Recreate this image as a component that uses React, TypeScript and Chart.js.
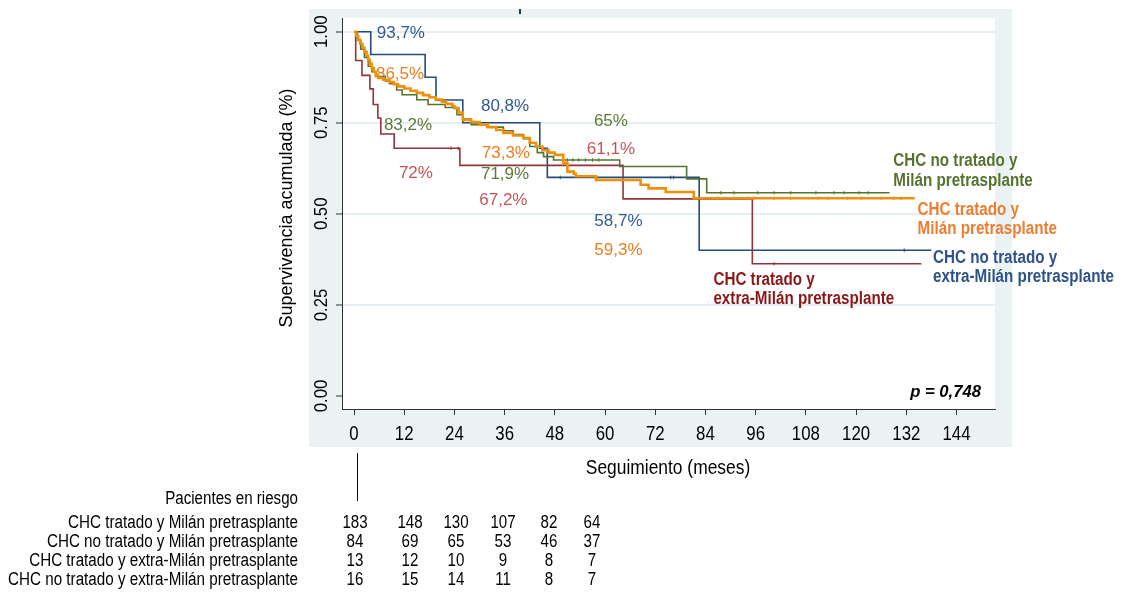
import React, { useEffect, useRef } from 'react';
import { Chart, registerables } from 'chart.js';

Chart.register(...registerables);

// ---------------- DATA ----------------
const xTicks = [0, 12, 24, 36, 48, 60, 72, 84, 96, 108, 120, 132, 144];
const yTicks = [0, 0.25, 0.5, 0.75, 1];
const yTickLabels = ['0.00', '0.25', '0.50', '0.75', '1.00'];

// Kaplan-Meier steps: CHC tratado y Milán pretrasplante (orange)
const tratMilanT = [0, 0.5, 1.0, 1.5, 2.0, 2.5, 3.0, 3.4, 3.8, 4.2, 4.7, 5.2, 5.8, 7, 8.5, 9.5, 10.5, 12, 13.5, 15, 16.5, 18, 19.5, 21, 22, 23.5, 24, 25, 26, 28, 30, 32, 34, 35.7, 38, 40.5, 42, 43.5, 45, 46.5, 48, 50, 51, 52.5, 53, 57.8, 68.5, 70.4, 74.5, 81.2, 134];
const tratMilanS = [1, 0.989, 0.978, 0.967, 0.956, 0.945, 0.934, 0.923, 0.912, 0.901, 0.89, 0.879, 0.873, 0.868, 0.862, 0.856, 0.85, 0.844, 0.838, 0.832, 0.826, 0.82, 0.814, 0.808, 0.802, 0.796, 0.79, 0.778, 0.758, 0.752, 0.745, 0.738, 0.73, 0.722, 0.715, 0.708, 0.695, 0.685, 0.675, 0.668, 0.662, 0.64, 0.616, 0.61, 0.603, 0.593, 0.58, 0.57, 0.56, 0.543, 0.543];

// CHC no tratado y Milán pretrasplante (green)
const noTratMilanT = [0, 0.8, 1.6, 2.5, 3.4, 4.3, 5.2, 7.5, 8.5, 10.2, 11.5, 15, 17.7, 21.8, 24.6, 26, 28, 31.8, 35.7, 38, 40.5, 42, 43.8, 45.3, 47.7, 63.5, 79.5, 84.3, 128];
const noTratMilanS = [1, 0.976, 0.952, 0.929, 0.905, 0.89, 0.877, 0.865, 0.857, 0.84, 0.827, 0.813, 0.8, 0.792, 0.772, 0.76, 0.745, 0.738, 0.728, 0.718, 0.706, 0.685, 0.668, 0.657, 0.648, 0.63, 0.596, 0.558, 0.558];

// CHC tratado y extra-Milán pretrasplante (red)
const tratExtraT = [0, 0.4, 1.9, 3.8, 4.6, 5.7, 6.4, 9.6, 25.3, 64.3, 95.2, 135.6];
const tratExtraS = [1, 0.921, 0.88, 0.843, 0.8, 0.763, 0.719, 0.68, 0.633, 0.541, 0.363, 0.363];

// CHC no tratado y extra-Milán pretrasplante (blue)
const noTratExtraT = [0, 4.0, 17.0, 19.6, 26.0, 44.4, 46.2, 82.5, 138];
const noTratExtraS = [1, 0.9375, 0.875, 0.8125, 0.75, 0.68, 0.6, 0.4, 0.4];

// censored observations (months)
const tratMilanCens = [87, 90.8, 94.1, 95.6, 100.4, 104.4, 110.9, 113.3, 118, 121.2, 126, 129, 130.8];
const noTratMilanCens = [51, 52.3, 53.7, 55.3, 57, 58.5, 87.7, 90.8, 96.5, 100.4, 104.4, 110.4, 114.7, 117.1, 120.7, 122.9];
const tratExtraCens = [23.2, 24.9, 100.4];
const noTratExtraCens = [49.3, 75.7, 76.4, 131.5];

// percentage annotations (series index: 0 orange, 1 green, 2 red, 3 blue)
const pctTexts = ['93,7%', '86,5%', '80,8%', '83,2%', '73,3%', '72%', '71,9%', '67,2%', '65%', '61,1%', '58,7%', '59,3%'];
const pctX = [11.2, 11.0, 36.1, 12.9, 36.3, 14.8, 36.1, 35.7, 61.4, 61.4, 63.2, 63.2];
const pctY = [1.0, 0.886, 0.799, 0.747, 0.671, 0.616, 0.611, 0.54, 0.758, 0.68, 0.483, 0.403];
const pctSeries = [3, 0, 3, 1, 0, 2, 1, 2, 1, 2, 3, 0];

// group labels
const groupLines = [
  ['CHC tratado y', 'Milán pretrasplante'],
  ['CHC no tratado y', 'Milán pretrasplante'],
  ['CHC tratado y', 'extra-Milán pretrasplante'],
  ['CHC no tratado y', 'extra-Milán pretrasplante'],
];
const groupX = [134.7, 128.9, 85.9, 138.4];
const groupY = [0.497, 0.631, 0.305, 0.366];

// risk table
const riskHeader = 'Pacientes en riesgo';
const riskNames = [
  'CHC tratado y Milán pretrasplante',
  'CHC no tratado y Milán pretrasplante',
  'CHC tratado y extra-Milán pretrasplante',
  'CHC no tratado y extra-Milán pretrasplante',
];
const riskTratMilan = [183, 148, 130, 107, 82, 64];
const riskNoTratMilan = [84, 69, 65, 53, 46, 37];
const riskTratExtra = [13, 12, 10, 9, 8, 7];
const riskNoTratExtra = [16, 15, 14, 11, 8, 7];

const xTitle = 'Seguimiento (meses)';
const yTitle = 'Supervivencia acumulada (%)';
const pText = 'p = 0,748';

// ---------------- STYLE ----------------
const lineColors = ['#f0900a', '#55752f', '#90353b', '#1f4e7f'];
const pctColors = ['#ef7d1e', '#5b7a38', '#c65456', '#2f5b8e'];
const groupColors = ['#ed7d31', '#55722f', '#8b1616', '#2e5287'];
const FONT = "'Liberation Sans', Arial, sans-serif";
const riskColX = [355, 410, 456, 503, 549, 592];
const riskBase = [503.5, 527.5, 546.5, 565.5, 584.5];

function steps(T: number[], S: number[]) {
  return T.map((t, i) => ({ x: t, y: S[i] }));
}
function lookup(T: number[], S: number[], t: number) {
  let v = S[0];
  for (let i = 0; i < T.length; i++) if (T[i] <= t) v = S[i];
  return v;
}
function cens(C: number[], T: number[], S: number[]) {
  return C.map((c) => ({ x: c, y: lookup(T, S, c) }));
}

function txt(ctx: CanvasRenderingContext2D, s: string, x: number, y: number, o: any) {
  ctx.save();
  ctx.translate(x, y);
  if (o.rot) ctx.rotate(o.rot);
  ctx.scale(o.sx || 1, 1);
  ctx.font = o.font;
  ctx.fillStyle = o.color || '#000';
  ctx.textAlign = o.align || 'left';
  ctx.textBaseline = 'alphabetic';
  ctx.fillText(s, 0, 0);
  ctx.restore();
}

const decor = {
  id: 'decor',
  beforeDraw(chart: any) {
    const { ctx, chartArea: a } = chart;
    ctx.save();
    ctx.fillStyle = '#ffffff';
    ctx.fillRect(0, 0, chart.width, chart.height);
    ctx.fillStyle = '#eaf2f3';
    ctx.fillRect(309, 9, 1012 - 309, 447 - 9);
    ctx.fillStyle = '#ffffff';
    ctx.fillRect(a.left, a.top, a.right - a.left, a.bottom - a.top);
    // small remnant mark at top
    ctx.fillStyle = '#1f3a66';
    ctx.fillRect(519, 9, 2, 5);
    ctx.restore();
  },
  beforeDatasetsDraw(chart: any) {
    const { ctx } = chart;
    const xs = chart.scales.x, ys = chart.scales.y;
    pctTexts.forEach((t, i) => {
      txt(ctx, t, xs.getPixelForValue(pctX[i]), ys.getPixelForValue(pctY[i]) + 6, {
        font: `17px ${FONT}`, color: pctColors[pctSeries[i]], align: 'center',
      });
    });
  },
  afterDraw(chart: any) {
    const { ctx, chartArea: a } = chart;
    const xs = chart.scales.x, ys = chart.scales.y;
    // y tick labels (rotated)
    yTicks.forEach((v, i) => {
      txt(ctx, yTickLabels[i], a.left - 15, ys.getPixelForValue(v), {
        font: `19px ${FONT}`, rot: -Math.PI / 2, sx: 0.88, align: 'center',
      });
    });
    // x tick labels
    xTicks.forEach((v) => {
      txt(ctx, String(v), xs.getPixelForValue(v), a.bottom + 31, {
        font: `20px ${FONT}`, sx: 0.84, align: 'center',
      });
    });
    // axis titles
    txt(ctx, xTitle, 668, 474, { font: `20px ${FONT}`, sx: 0.87, align: 'center' });
    txt(ctx, yTitle, 292, 208, { font: `18px ${FONT}`, rot: -Math.PI / 2, align: 'center' });
    // group labels
    groupLines.forEach((lines, i) => {
      const x = xs.getPixelForValue(groupX[i]);
      const y = ys.getPixelForValue(groupY[i]);
      lines.forEach((l, j) => {
        txt(ctx, l, x, y + j * 19.5, { font: `bold 18px ${FONT}`, sx: 0.845, color: groupColors[i] });
      });
    });
    // p value
    txt(ctx, pText, a.right - 14, a.bottom - 12, { font: `italic bold 17px ${FONT}`, align: 'right', sx: 0.98 });
    // risk table
    ctx.save();
    ctx.strokeStyle = '#000';
    ctx.lineWidth = 1;
    ctx.beginPath();
    ctx.moveTo(357.5, 453);
    ctx.lineTo(357.5, 501);
    ctx.stroke();
    ctx.restore();
    txt(ctx, riskHeader, 298, riskBase[0], { font: `18px ${FONT}`, sx: 0.84, align: 'right' });
    const rows = [riskTratMilan, riskNoTratMilan, riskTratExtra, riskNoTratExtra];
    rows.forEach((r, i) => {
      txt(ctx, riskNames[i], 298, riskBase[i + 1], { font: `18px ${FONT}`, sx: 0.845, align: 'right' });
      r.forEach((n, j) => {
        txt(ctx, String(n), riskColX[j], riskBase[i + 1], { font: `18px ${FONT}`, sx: 0.84, align: 'center' });
      });
    });
  },
};

export default function App() {
  const ref = useRef<HTMLCanvasElement>(null);
  useEffect(() => {
    if (!ref.current) return;
    const lineDs = (label: string, T: number[], S: number[], c: string, w: number, order: number) => ({
      label, data: steps(T, S), stepped: true, borderColor: c, backgroundColor: c,
      borderWidth: w, pointRadius: 0, fill: false, order,
    });
    const censDs = (label: string, C: number[], T: number[], S: number[], c: string, order: number) => ({
      label, data: cens(C, T, S), showLine: false, borderColor: c, backgroundColor: c,
      pointStyle: 'line', rotation: 90, pointRadius: 1.8, borderWidth: 1, order,
    });
    const chart = new Chart(ref.current, {
      type: 'line',
      data: {
        datasets: [
          lineDs('CHC tratado y Milán pretrasplante', tratMilanT, tratMilanS, lineColors[0], 2.6, 1),
          lineDs('CHC no tratado y Milán pretrasplante', noTratMilanT, noTratMilanS, lineColors[1], 1.6, 2),
          lineDs('CHC tratado y extra-Milán pretrasplante', tratExtraT, tratExtraS, lineColors[2], 1.6, 3),
          lineDs('CHC no tratado y extra-Milán pretrasplante', noTratExtraT, noTratExtraS, lineColors[3], 1.6, 4),
          censDs('c1', tratMilanCens, tratMilanT, tratMilanS, lineColors[0], 1),
          censDs('c2', noTratMilanCens, noTratMilanT, noTratMilanS, lineColors[1], 2),
          censDs('c3', tratExtraCens, tratExtraT, tratExtraS, lineColors[2], 3),
          censDs('c4', noTratExtraCens, noTratExtraT, noTratExtraS, lineColors[3], 4),
        ] as any,
      },
      options: {
        responsive: false,
        devicePixelRatio: 1,
        animation: false,
        layout: { padding: { left: 0, top: 18, right: 1139 - 995, bottom: 0 } },
        plugins: { legend: { display: false }, tooltip: { enabled: false } },
        scales: {
          x: {
            type: 'linear', min: -2.87, max: 153.2,
            afterBuildTicks: (s: any) => { s.ticks = xTicks.map((v) => ({ value: v })); },
            afterFit: (s: any) => { s.height = 593 - 409; },
            ticks: { display: false },
            grid: { drawOnChartArea: false, drawTicks: true, tickLength: 6, tickColor: '#333', tickWidth: 1 },
            border: { display: true, color: '#333', width: 1 },
          },
          y: {
            type: 'linear', min: -0.0357, max: 1.0376,
            afterBuildTicks: (s: any) => { s.ticks = yTicks.map((v) => ({ value: v })); },
            afterFit: (s: any) => { s.width = 342; },
            ticks: { display: false },
            grid: {
              drawOnChartArea: true, drawTicks: true, tickLength: 6, tickColor: '#333', tickWidth: 1,
              lineWidth: 2,
              color: (c: any) => (c.tick && c.tick.value === 0 ? 'rgba(0,0,0,0)' : '#e6eef1'),
            },
            border: { display: true, color: '#333', width: 1 },
          },
        },
      } as any,
      plugins: [decor],
    });
    return () => chart.destroy();
  }, []);
  return (
    <div style={{ position: 'fixed', left: 0, top: 0, width: 1139, height: 593, background: '#fff' }}>
      <canvas ref={ref} width={1139} height={593} style={{ display: 'block' }} />
    </div>
  );
}
